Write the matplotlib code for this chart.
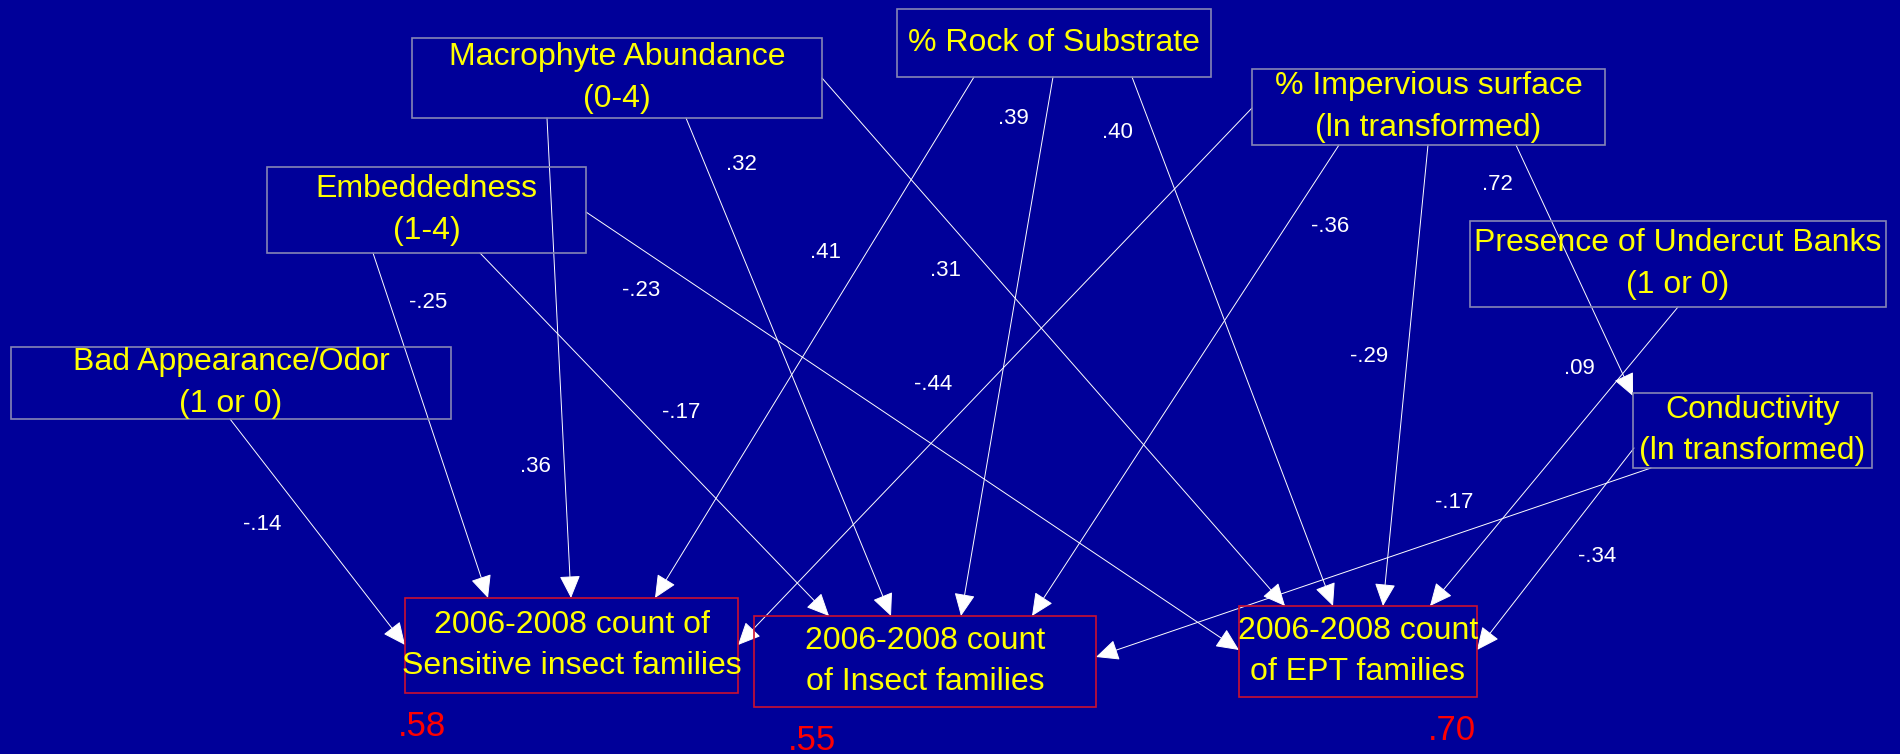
import matplotlib.pyplot as plt
from matplotlib.patches import Rectangle

plt.rcParams['font.family'] = ['Liberation Sans', 'DejaVu Sans']

# node labels
predictors = ["Macrophyte Abundance\n(0-4)", "% Rock of Substrate",
              "% Impervious surface\n(ln transformed)", "Embeddedness\n(1-4)",
              "Presence of Undercut Banks\n(1 or 0)", "Bad Appearance/Odor\n(1 or 0)",
              "Conductivity\n(ln transformed)"]
outcomes = ["2006-2008 count of\nSensitive insect families",
            "2006-2008 count\nof Insect families",
            "2006-2008 count\nof EPT families"]
r_squared = [".58", ".55", ".70"]

# path coefficients
path_from = [0, 0, 0, 1, 1, 1, 2, 2, 2, 2, 3, 3, 3, 4, 5, 6, 6]
path_to = ["S", "I", "E", "S", "I", "E", "S", "I", "E", "C", "S", "I", "E", "E", "S", "I", "E"]
path_coef = [".36", ".32", ".31", ".41", ".39", ".40", "-.44", "-.36", "-.29", ".72",
             "-.25", "-.17", "-.23", ".09", "-.14", "-.17", "-.34"]

# layout (pixels, y down)
pred_boxes = [(412, 38, 822, 118), (897, 9, 1211, 77), (1252, 69, 1605, 145),
              (267, 167, 586, 253), (1470, 221, 1886, 307), (11, 347, 451, 419),
              (1633, 393, 1872, 468)]
out_boxes = [(405, 598, 738, 693), (754, 616, 1096, 707), (1239, 606, 1477, 697)]
r2_pos = [(422, 726), (812, 740), (1452, 730)]
path_start = [(547, 118), (686, 118), (822, 78), (974, 77), (1053, 77), (1132, 77),
              (1252, 108), (1339, 145), (1428, 145), (1516, 145), (373, 253), (480, 253),
              (586, 212), (1678, 307), (230, 419), (1651, 468), (1634, 448)]
path_end = [(571, 598), (891, 616), (1285, 606), (655, 598), (961, 616), (1333, 606),
            (738, 645), (1032, 616), (1383, 606), (1633, 396), (488, 598), (829, 616),
            (1239, 650), (1430, 606), (405, 645), (1096, 657), (1477, 650)]
label_pos = [(535, 466), (741, 164), (945, 271), (825, 252), (1013, 118), (1117, 133),
             (933, 384), (1330, 226), (1369, 357), (1497, 185), (428, 303), (681, 412),
             (641, 291), (1579, 368), (262, 525), (1454, 502), (1597, 557)]

bg = '#000099'
fig = plt.figure(figsize=(19, 7.54), dpi=100, facecolor=bg)
ax = fig.add_axes([0, 0, 1, 1])
ax.set_facecolor(bg)
ax.set_xlim(0, 1900)
ax.set_ylim(754, 0)
ax.axis('off')


def draw_box(b, text, edge):
    x0, y0, x1, y1 = b
    ax.add_patch(Rectangle((x0, y0), x1 - x0, y1 - y0, fill=False, ec=edge, lw=1.2, zorder=2))
    ax.text((x0 + x1) / 2, (y0 + y1) / 2, text, color='yellow', fontsize=23,
            ha='center', va='center', linespacing=1.5, zorder=3)


for b, t in zip(pred_boxes, predictors):
    draw_box(b, t, '#8585b5')
for b, t in zip(out_boxes, outcomes):
    draw_box(b, t, '#cc1030')

for i in range(len(path_coef)):
    ax.annotate('', xy=path_end[i], xytext=path_start[i],
                arrowprops=dict(arrowstyle='-|>,head_length=0.65,head_width=0.3',
                                color='white', lw=0.7, mutation_scale=22,
                                shrinkA=0, shrinkB=0), zorder=1)
    ax.text(label_pos[i][0], label_pos[i][1], path_coef[i], color='white',
            fontsize=16, ha='center', va='center')

for p, r in zip(r2_pos, r_squared):
    ax.text(p[0], p[1], r, color='red', fontsize=25, ha='center', va='center')

plt.savefig('out.png', dpi=100, facecolor=bg)
